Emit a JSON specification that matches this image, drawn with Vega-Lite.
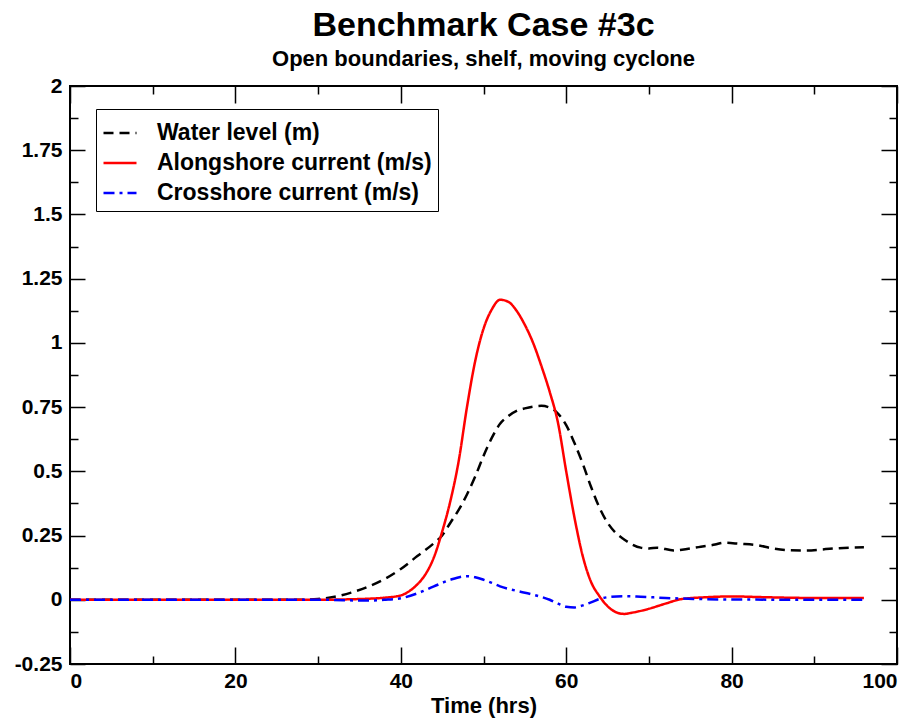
{
  "$schema": "https://vega.github.io/schema/vega-lite/v6.json",
  "autosize": "none",
  "width": 827,
  "height": 578,
  "padding": {"left": 70, "top": 86, "right": 21, "bottom": 56},
  "background": "white",
  "title": {
    "text": "Benchmark Case #3c",
    "subtitle": "Open boundaries, shelf, moving cyclone",
    "font": "Liberation Sans",
    "fontSize": 34,
    "fontWeight": "bold",
    "subtitleFont": "Liberation Sans",
    "subtitleFontSize": 22,
    "subtitleFontWeight": "bold",
    "subtitleColor": "black",
    "color": "black",
    "anchor": "middle",
    "offset": 5,
    "subtitlePadding": 6
  },
  "config": {
    "view": {"stroke": "black", "strokeWidth": 2},
    "axis": {"grid": false, "domain": false, "tickColor": "black", "tickWidth": 1.5}
  },
  "data": {"values": [
    {"t": 0, "v": 0, "s": "Water level (m)"},
    {"t": 10, "v": 0, "s": "Water level (m)"},
    {"t": 20, "v": 0, "s": "Water level (m)"},
    {"t": 28, "v": 0, "s": "Water level (m)"},
    {"t": 30, "v": 0.003, "s": "Water level (m)"},
    {"t": 32, "v": 0.012, "s": "Water level (m)"},
    {"t": 34, "v": 0.028, "s": "Water level (m)"},
    {"t": 36, "v": 0.05, "s": "Water level (m)"},
    {"t": 38, "v": 0.08, "s": "Water level (m)"},
    {"t": 40, "v": 0.12, "s": "Water level (m)"},
    {"t": 42, "v": 0.17, "s": "Water level (m)"},
    {"t": 44, "v": 0.22, "s": "Water level (m)"},
    {"t": 45, "v": 0.25, "s": "Water level (m)"},
    {"t": 46, "v": 0.3, "s": "Water level (m)"},
    {"t": 47, "v": 0.35, "s": "Water level (m)"},
    {"t": 48, "v": 0.41, "s": "Water level (m)"},
    {"t": 49, "v": 0.48, "s": "Water level (m)"},
    {"t": 50, "v": 0.56, "s": "Water level (m)"},
    {"t": 51, "v": 0.63, "s": "Water level (m)"},
    {"t": 52, "v": 0.685, "s": "Water level (m)"},
    {"t": 53, "v": 0.715, "s": "Water level (m)"},
    {"t": 54, "v": 0.735, "s": "Water level (m)"},
    {"t": 55, "v": 0.745, "s": "Water level (m)"},
    {"t": 56, "v": 0.752, "s": "Water level (m)"},
    {"t": 57, "v": 0.755, "s": "Water level (m)"},
    {"t": 58, "v": 0.748, "s": "Water level (m)"},
    {"t": 59, "v": 0.725, "s": "Water level (m)"},
    {"t": 60, "v": 0.68, "s": "Water level (m)"},
    {"t": 61, "v": 0.61, "s": "Water level (m)"},
    {"t": 62, "v": 0.53, "s": "Water level (m)"},
    {"t": 63, "v": 0.44, "s": "Water level (m)"},
    {"t": 64, "v": 0.36, "s": "Water level (m)"},
    {"t": 65, "v": 0.3, "s": "Water level (m)"},
    {"t": 66, "v": 0.26, "s": "Water level (m)"},
    {"t": 67, "v": 0.235, "s": "Water level (m)"},
    {"t": 68, "v": 0.215, "s": "Water level (m)"},
    {"t": 69, "v": 0.203, "s": "Water level (m)"},
    {"t": 70, "v": 0.2, "s": "Water level (m)"},
    {"t": 71, "v": 0.203, "s": "Water level (m)"},
    {"t": 73, "v": 0.192, "s": "Water level (m)"},
    {"t": 74, "v": 0.195, "s": "Water level (m)"},
    {"t": 76, "v": 0.205, "s": "Water level (m)"},
    {"t": 78, "v": 0.215, "s": "Water level (m)"},
    {"t": 79, "v": 0.222, "s": "Water level (m)"},
    {"t": 81, "v": 0.218, "s": "Water level (m)"},
    {"t": 83, "v": 0.213, "s": "Water level (m)"},
    {"t": 85, "v": 0.2, "s": "Water level (m)"},
    {"t": 87, "v": 0.193, "s": "Water level (m)"},
    {"t": 89, "v": 0.192, "s": "Water level (m)"},
    {"t": 91, "v": 0.196, "s": "Water level (m)"},
    {"t": 93, "v": 0.201, "s": "Water level (m)"},
    {"t": 96, "v": 0.204, "s": "Water level (m)"},

    {"t": 0, "v": 0, "s": "Alongshore current (m/s)"},
    {"t": 10, "v": 0, "s": "Alongshore current (m/s)"},
    {"t": 20, "v": 0, "s": "Alongshore current (m/s)"},
    {"t": 30, "v": 0, "s": "Alongshore current (m/s)"},
    {"t": 34, "v": 0.002, "s": "Alongshore current (m/s)"},
    {"t": 36, "v": 0.004, "s": "Alongshore current (m/s)"},
    {"t": 38, "v": 0.008, "s": "Alongshore current (m/s)"},
    {"t": 40, "v": 0.017, "s": "Alongshore current (m/s)"},
    {"t": 41, "v": 0.033, "s": "Alongshore current (m/s)"},
    {"t": 42, "v": 0.06, "s": "Alongshore current (m/s)"},
    {"t": 43, "v": 0.1, "s": "Alongshore current (m/s)"},
    {"t": 44, "v": 0.165, "s": "Alongshore current (m/s)"},
    {"t": 45, "v": 0.265, "s": "Alongshore current (m/s)"},
    {"t": 46, "v": 0.385, "s": "Alongshore current (m/s)"},
    {"t": 47, "v": 0.54, "s": "Alongshore current (m/s)"},
    {"t": 48, "v": 0.75, "s": "Alongshore current (m/s)"},
    {"t": 49, "v": 0.93, "s": "Alongshore current (m/s)"},
    {"t": 50, "v": 1.055, "s": "Alongshore current (m/s)"},
    {"t": 51, "v": 1.13, "s": "Alongshore current (m/s)"},
    {"t": 52, "v": 1.168, "s": "Alongshore current (m/s)"},
    {"t": 53, "v": 1.16, "s": "Alongshore current (m/s)"},
    {"t": 54, "v": 1.125, "s": "Alongshore current (m/s)"},
    {"t": 55, "v": 1.07, "s": "Alongshore current (m/s)"},
    {"t": 56, "v": 1.0, "s": "Alongshore current (m/s)"},
    {"t": 57, "v": 0.91, "s": "Alongshore current (m/s)"},
    {"t": 58, "v": 0.81, "s": "Alongshore current (m/s)"},
    {"t": 59, "v": 0.69, "s": "Alongshore current (m/s)"},
    {"t": 60, "v": 0.5, "s": "Alongshore current (m/s)"},
    {"t": 61, "v": 0.32, "s": "Alongshore current (m/s)"},
    {"t": 62, "v": 0.17, "s": "Alongshore current (m/s)"},
    {"t": 63, "v": 0.07, "s": "Alongshore current (m/s)"},
    {"t": 64, "v": 0.015, "s": "Alongshore current (m/s)"},
    {"t": 65, "v": -0.025, "s": "Alongshore current (m/s)"},
    {"t": 66, "v": -0.048, "s": "Alongshore current (m/s)"},
    {"t": 67, "v": -0.055, "s": "Alongshore current (m/s)"},
    {"t": 68, "v": -0.05, "s": "Alongshore current (m/s)"},
    {"t": 70, "v": -0.035, "s": "Alongshore current (m/s)"},
    {"t": 72, "v": -0.015, "s": "Alongshore current (m/s)"},
    {"t": 74, "v": 0.003, "s": "Alongshore current (m/s)"},
    {"t": 77, "v": 0.01, "s": "Alongshore current (m/s)"},
    {"t": 80, "v": 0.013, "s": "Alongshore current (m/s)"},
    {"t": 84, "v": 0.01, "s": "Alongshore current (m/s)"},
    {"t": 90, "v": 0.007, "s": "Alongshore current (m/s)"},
    {"t": 96, "v": 0.007, "s": "Alongshore current (m/s)"},

    {"t": 0, "v": 0, "s": "Crosshore current (m/s)"},
    {"t": 30, "v": 0, "s": "Crosshore current (m/s)"},
    {"t": 36, "v": -0.003, "s": "Crosshore current (m/s)"},
    {"t": 38, "v": 0, "s": "Crosshore current (m/s)"},
    {"t": 40, "v": 0.006, "s": "Crosshore current (m/s)"},
    {"t": 42, "v": 0.025, "s": "Crosshore current (m/s)"},
    {"t": 44, "v": 0.052, "s": "Crosshore current (m/s)"},
    {"t": 46, "v": 0.078, "s": "Crosshore current (m/s)"},
    {"t": 48, "v": 0.092, "s": "Crosshore current (m/s)"},
    {"t": 49, "v": 0.088, "s": "Crosshore current (m/s)"},
    {"t": 50, "v": 0.078, "s": "Crosshore current (m/s)"},
    {"t": 51, "v": 0.066, "s": "Crosshore current (m/s)"},
    {"t": 52, "v": 0.052, "s": "Crosshore current (m/s)"},
    {"t": 54, "v": 0.035, "s": "Crosshore current (m/s)"},
    {"t": 56, "v": 0.02, "s": "Crosshore current (m/s)"},
    {"t": 58, "v": 0.0, "s": "Crosshore current (m/s)"},
    {"t": 59, "v": -0.015, "s": "Crosshore current (m/s)"},
    {"t": 60, "v": -0.027, "s": "Crosshore current (m/s)"},
    {"t": 61, "v": -0.03, "s": "Crosshore current (m/s)"},
    {"t": 62, "v": -0.022, "s": "Crosshore current (m/s)"},
    {"t": 63, "v": -0.01, "s": "Crosshore current (m/s)"},
    {"t": 64, "v": 0.003, "s": "Crosshore current (m/s)"},
    {"t": 65, "v": 0.01, "s": "Crosshore current (m/s)"},
    {"t": 67, "v": 0.014, "s": "Crosshore current (m/s)"},
    {"t": 69, "v": 0.012, "s": "Crosshore current (m/s)"},
    {"t": 72, "v": 0.007, "s": "Crosshore current (m/s)"},
    {"t": 76, "v": 0.003, "s": "Crosshore current (m/s)"},
    {"t": 80, "v": 0.001, "s": "Crosshore current (m/s)"},
    {"t": 96, "v": 0, "s": "Crosshore current (m/s)"}
  ]},
  "layer": [
    {
      "mark": {"type": "line", "strokeOpacity": 0},
      "encoding": {
        "x": {"field": "t", "type": "quantitative", "scale": {"domain": [0, 100], "nice": false},
          "axis": {"orient": "bottom", "title": null, "labels": false, "values": [10, 30, 50, 70, 90], "tickSize": -8}},
        "y": {"field": "v", "type": "quantitative", "scale": {"domain": [-0.25, 2], "nice": false, "zero": false},
          "axis": {"orient": "left", "title": null, "labels": false, "values": [-0.125, 0.125, 0.375, 0.625, 0.875, 1.125, 1.375, 1.625, 1.875], "tickSize": -8}},
        "detail": {"field": "s", "type": "nominal"}
      }
    },
    {
      "mark": {"type": "line", "strokeOpacity": 0},
      "encoding": {
        "x": {"field": "t", "type": "quantitative",
          "axis": {"orient": "top", "title": null, "labels": false, "values": [0, 20, 40, 60, 80, 100], "tickSize": -17}},
        "y": {"field": "v", "type": "quantitative",
          "axis": {"orient": "right", "title": null, "labels": false, "values": [-0.25, 0, 0.25, 0.5, 0.75, 1, 1.25, 1.5, 1.75, 2], "tickSize": -16}},
        "detail": {"field": "s", "type": "nominal"}
      }
    },
    {
      "mark": {"type": "line", "strokeOpacity": 0},
      "encoding": {
        "x": {"field": "t", "type": "quantitative",
          "axis": {"orient": "top", "title": null, "labels": false, "values": [10, 30, 50, 70, 90], "tickSize": -8}},
        "y": {"field": "v", "type": "quantitative",
          "axis": {"orient": "right", "title": null, "labels": false, "values": [-0.125, 0.125, 0.375, 0.625, 0.875, 1.125, 1.375, 1.625, 1.875], "tickSize": -8}},
        "detail": {"field": "s", "type": "nominal"}
      }
    },
    {
      "mark": {"type": "line", "interpolate": "monotone", "strokeWidth": 2.5, "clip": true},
      "encoding": {
        "x": {
          "field": "t", "type": "quantitative",
          "axis": {
            "orient": "bottom",
            "title": "Time (hrs)",
            "values": [0, 20, 40, 60, 80, 100],
            "tickSize": -17,
            "labelPadding": 23,
            "labelFont": "Liberation Sans", "labelFontSize": 21, "labelFontWeight": "bold", "labelColor": "black",
            "titleFont": "Liberation Sans", "titleFontSize": 22, "titleFontWeight": "bold", "titleColor": "black",
            "titlePadding": 4
          }
        },
        "y": {
          "field": "v", "type": "quantitative",
          "axis": {
            "orient": "left",
            "title": null,
            "values": [-0.25, 0, 0.25, 0.5, 0.75, 1, 1.25, 1.5, 1.75, 2],
            "labelExpr": "'' + datum.value",
            "tickSize": -15,
            "labelPadding": 23,
            "labelFont": "Liberation Sans", "labelFontSize": 21, "labelFontWeight": "bold", "labelColor": "black"
          }
        },
        "color": {
          "field": "s", "type": "nominal",
          "scale": {
            "domain": ["Water level (m)", "Alongshore current (m/s)", "Crosshore current (m/s)"],
            "range": ["black", "#ff0000", "#0000ff"]
          },
          "legend": {
            "title": null,
            "orient": "none",
            "legendX": 26,
            "legendY": 23,
            "fillColor": "white",
            "strokeColor": "black",
            "padding": 6,
            "symbolType": "stroke",
            "symbolSize": 1089,
            "symbolStrokeWidth": 2.5,
            "labelFont": "Liberation Sans",
            "labelFontSize": 23,
            "labelFontWeight": "bold",
            "labelColor": "black",
            "labelOffset": 19,
            "rowPadding": 0,
            "labelLimit": 400
          }
        },
        "strokeDash": {
          "field": "s", "type": "nominal",
          "scale": {
            "domain": ["Water level (m)", "Alongshore current (m/s)", "Crosshore current (m/s)"],
            "range": [[10, 6], [1, 0], [11, 5, 3, 5]]
          },
          "legend": null
        }
      }
    }
  ],
  "resolve": {"axis": {"x": "independent", "y": "independent"}}
}
